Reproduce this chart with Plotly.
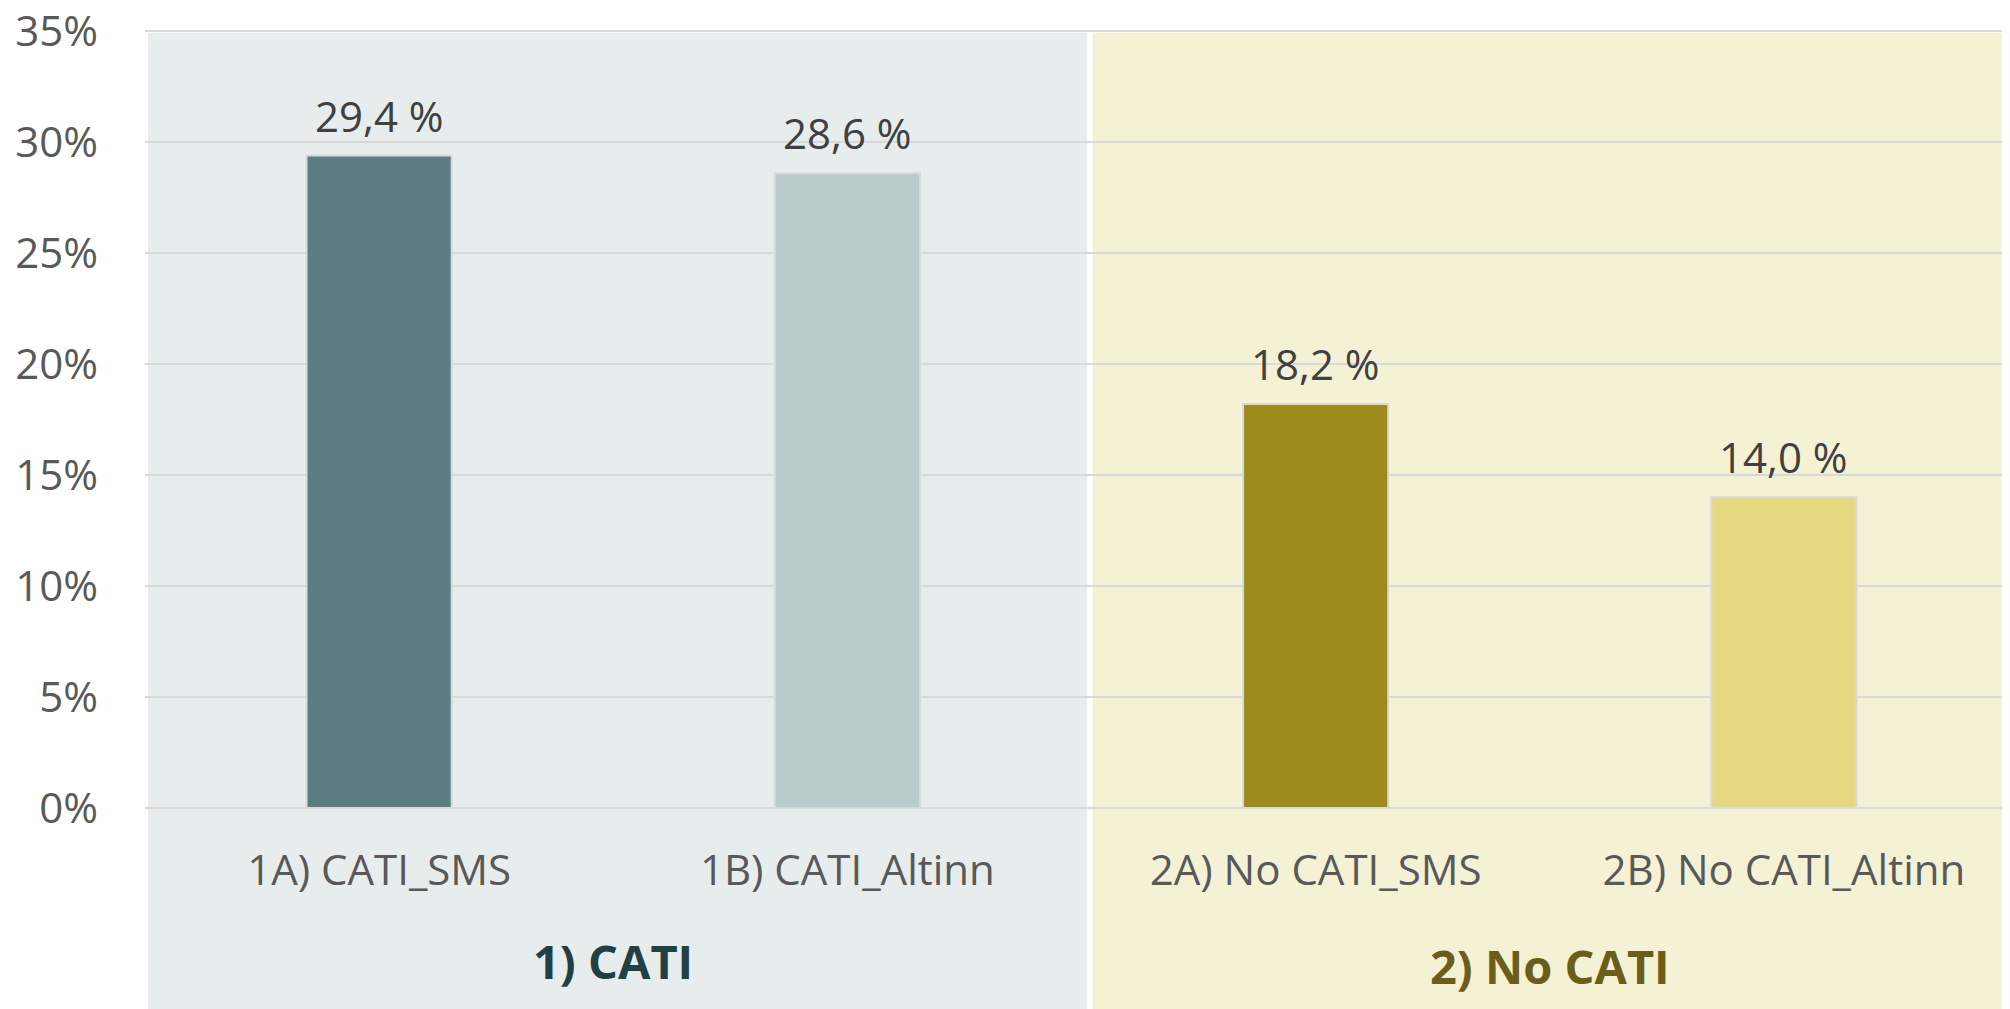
import plotly.graph_objects as go

categories = ["1A) CATI_SMS", "1B) CATI_Altinn", "2A) No CATI_SMS", "2B) No CATI_Altinn"]
values = [29.4, 28.6, 18.2, 14.0]
bar_colors = ["#5C7E80", "#B9CBCB", "#9E8B1E", "#E5D880"]
groups = ["1) CATI", "2) No CATI"]
group_colors = ["#223F44", "#6B5E1A"]
panel_colors = ["#E7ECEC", "#F5F1D5"]
y_ticks = [0, 5, 10, 15, 20, 25, 30, 35]
y_tick_labels = [f"{v}%" for v in y_ticks]

FONT = "Open Sans"

fig = go.Figure()
fig.add_trace(go.Bar(
    x=categories, y=values,
    marker=dict(color=bar_colors, line=dict(color="#D9D9D9", width=2)),
    width=0.31, hoverinfo="skip",
))

# data labels
for c, v in zip(categories, values):
    fig.add_annotation(
        x=c, y=v, xref="x", yref="y",
        text=f"{v:.1f}".replace(".", ",") + " %",
        showarrow=False, yanchor="bottom", xanchor="center", yshift=10,
        font=dict(family=FONT, size=42, color="#404040"),
    )

# group panels and labels
n = len(categories)
panel_x = [(0.0016, 0.503), (0.506, 1.01)]
group_label_y = [-0.197, -0.203]
for i, g in enumerate(groups):
    x0, x1 = panel_x[i]
    fig.add_shape(type="rect", xref="paper", yref="paper",
                  x0=x0, x1=x1, y0=-0.27, y1=0.9953,
                  fillcolor=panel_colors[i], line=dict(width=0), layer="below")
    fig.add_annotation(
        x=(2 * i + 1) / n, y=group_label_y[i], xref="paper", yref="paper",
        text=f"<b>{g}</b>", showarrow=False, yanchor="middle", xanchor="center",
        font=dict(family=FONT, size=47, color=group_colors[i]),
    )

fig.update_layout(
    width=2010, height=1009,
    margin=dict(l=137, r=0, t=21, b=209),
    paper_bgcolor="white", plot_bgcolor="rgba(0,0,0,0)",
    showlegend=False,
    font=dict(family=FONT, size=42, color="#595959"),
)
fig.update_xaxes(
    type="category", range=[-0.5, n - 0.5], automargin=False,
    showgrid=False, showline=False, zeroline=False,
    ticks="outside", ticklen=26, tickcolor="rgba(0,0,0,0)",
    ticklabeloverflow="allow",
    tickfont=dict(family=FONT, size=42, color="#595959"),
)
fig.update_yaxes(
    range=[0, 35.1], tickmode="array", tickvals=y_ticks, ticktext=y_tick_labels,
    automargin=False, ticklabeloverflow="allow",
    showgrid=True, gridcolor="#D9D9D9", gridwidth=2,
    zeroline=True, zerolinecolor="#D9D9D9", zerolinewidth=2,
    showline=False, ticklabelstandoff=46,
    tickfont=dict(family=FONT, size=42, color="#595959"),
)

fig.write_html("out.html")
